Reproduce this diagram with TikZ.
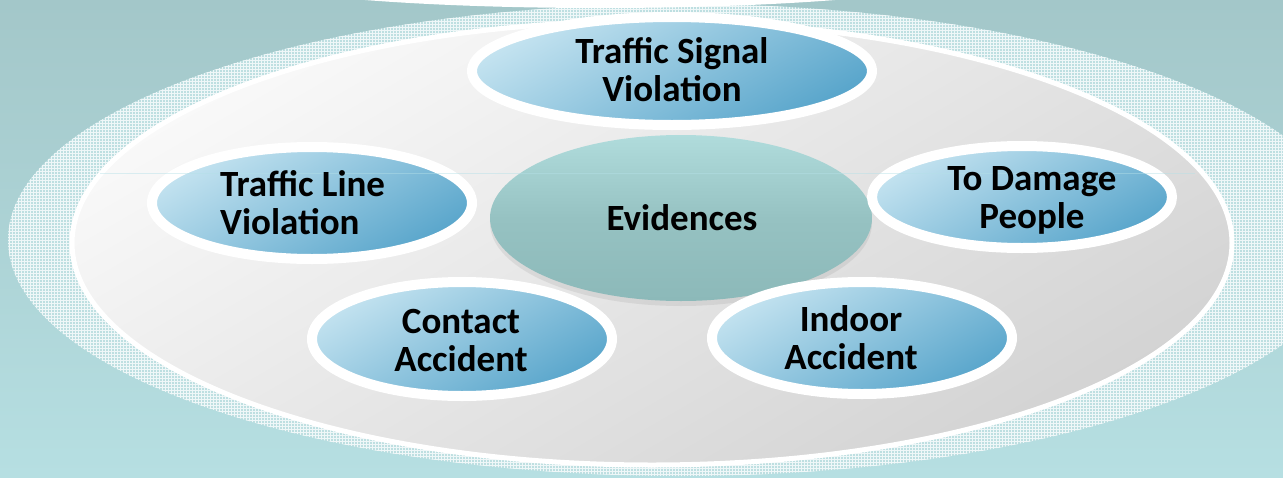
\documentclass[tikz,border=0pt]{standalone}
\usepackage{fontspec}
\setmainfont{Carlito}
\usetikzlibrary{shapes.geometric,shadows,patterns}
\definecolor{bgtop}{RGB}{163,199,201}
\definecolor{bgbot}{RGB}{182,223,226}
\definecolor{halo}{RGB}{190,223,225}
\definecolor{graylt}{RGB}{249,249,249}
\definecolor{graydk}{RGB}{211,211,211}
\definecolor{bluelt}{RGB}{196,227,240}
\definecolor{bluedk}{RGB}{88,165,203}
\definecolor{evtop}{RGB}{176,220,220}
\definecolor{evmid}{RGB}{150,194,194}
\definecolor{evbot}{RGB}{140,185,185}
\definecolor{hairline}{RGB}{180,224,232}

\begin{document}
\begin{tikzpicture}[x=1pt, y=-1pt,
        bubble/.style={ellipse, draw=white, line width=10pt, inner sep=0pt,
            top color=bluelt, bottom color=bluedk, shading angle=30},
        core/.style={ellipse, inner sep=0pt, top color=evtop, bottom color=evbot, middle color=evmid,
            drop shadow={shadow xshift=0pt, shadow yshift=-5pt, opacity=.15}},
        txt/.style={font=\fontsize{37}{38}\selectfont\bfseries, inner sep=0pt, align=center}]
    \useasboundingbox (0,0) rectangle (1283,477);
    \clip (0,0) rectangle (1283,477);
    \shade[top color=bgtop, bottom color=bgbot] (0,0) rectangle (1283,477);
    % halo and plate
    \fill[halo] (680,240) ellipse [x radius=672, y radius=236];
    \fill[pattern=grid, pattern color=white!75!halo] (680,240) ellipse [x radius=672, y radius=236];
    \fill[white] (600,-30) ellipse [x radius=383, y radius=38];
    \draw[white, line width=5pt, top color=graylt, bottom color=graydk, shading angle=30]
        (652,243) ellipse [x radius=580, y radius=222];
    % ellipses
    \node[core, minimum width=382pt, minimum height=166pt] (ev) at (681,218) {};
    \node[bubble, minimum width=400pt, minimum height=108pt] (signal) at (672,71) {};
    \node[bubble, minimum width=320pt, minimum height=112pt] (line) at (312,203) {};
    \node[bubble, minimum width=300pt, minimum height=102pt] (damage) at (1022,197) {};
    \node[bubble, minimum width=300pt, minimum height=114pt] (contact) at (462,339) {};
    \node[bubble, minimum width=300pt, minimum height=112pt] (indoor) at (862,338) {};
    \draw[hairline, line width=1pt, opacity=.45] (100,173) -- (1195,173);
    % labels
    \node[txt] (ev-t) at (682,218) {Evidences};
    \node[txt] (signal-t) at (672,70) {Traffic Signal\\Violation};
    \node[txt, align=left, anchor=west] (line-t) at (220,202.5) {Traffic Line\\Violation};
    \node[txt] (damage-t) at (1032,200) {To Damage\\People};
    \node[txt] (contact-t) at (461,340) {Contact\\Accident};
    \node[txt] (indoor-t) at (851,338) {Indoor\\Accident};
\end{tikzpicture}
\end{document}
